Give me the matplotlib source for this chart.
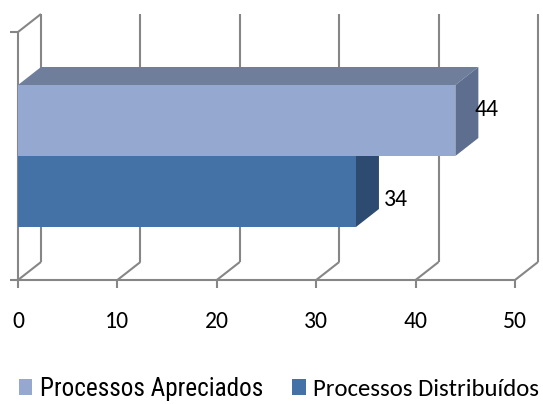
import matplotlib
matplotlib.use("Agg")
import matplotlib.pyplot as plt
from matplotlib.patches import Polygon, Patch

# ---- data ----
series_names = ["Processos Apreciados", "Processos Distribuídos"]
series_values = [44, 34]
x_ticks = [0, 10, 20, 30, 40, 50]

# ---- style ----
W, H, DPI = 543, 404, 100
front_colors = ["#95A9D0", "#4472A7"]
top_colors = ["#6F7F9B", "#3A5E8C"]
side_colors = ["#5E6E8E", "#2D4A70"]
grid_color = "#868686"
grid_lw = 1.5
label_off_px = [(-4, 11), (5, -8)]
main_font = ["Carlito", "DejaVu Sans"]
narrow_font = ["Roboto Condensed", "DejaVu Sans"]

fig = plt.figure(figsize=(W / DPI, H / DPI), dpi=DPI)
# front plane of the 3D box in pixels
x0_px, x1_px, yb_px, yt_px = 18, 515, 280, 32
ax = fig.add_axes([x0_px / W, 1 - yb_px / H, (x1_px - x0_px) / W, (yb_px - yt_px) / H])
ax.set_xlim(x_ticks[0], x_ticks[-1])
ax.set_ylim(0, 1)
for s in ax.spines.values():
    s.set_visible(False)
ax.set_yticks([])

ppx = (x1_px - x0_px) / (x_ticks[-1] - x_ticks[0])  # pixels per unit x
ppy = (yb_px - yt_px)  # pixels per unit y
dx = 23 / ppx
dy = 18 / ppy
tick_len_x = 8 / ppx
tick_len_y = 8 / ppy

line_kw = dict(color=grid_color, lw=grid_lw, clip_on=False, solid_capstyle="butt", zorder=1)
# floor front line and left wall
ax.plot([x_ticks[0] - tick_len_x, x_ticks[-1]], [0, 0], **line_kw)
ax.plot([0, 0], [0, 1], **line_kw)
ax.plot([x_ticks[0] - tick_len_x, 0], [1, 1], **line_kw)
ax.plot([0, dx], [1, 1 + dy], **line_kw)
for t in x_ticks:
    ax.plot([t, t], [0, -tick_len_y], **line_kw)
    ax.plot([t, t + dx], [0, dy], **line_kw)
    ax.plot([t + dx, t + dx], [dy, 1 + dy], **line_kw)

# bars
bar_h = 71 / ppy
centers = [0.5 + bar_h / 2, 0.5 - bar_h / 2]
for i in [1, 0]:
    v = series_values[i]
    c = centers[i]
    lo, hi = c - bar_h / 2, c + bar_h / 2
    z = 4 if i == 0 else 2
    ax.add_patch(Polygon([(0, hi), (v, hi), (v + dx, hi + dy), (dx, hi + dy)],
                         closed=True, fc=top_colors[i], ec="none", zorder=z, clip_on=False))
    ax.add_patch(Polygon([(v, lo), (v + dx, lo + dy), (v + dx, hi + dy), (v, hi)],
                         closed=True, fc=side_colors[i], ec="none", zorder=z, clip_on=False))
    ax.barh([c], [v], height=bar_h, color=front_colors[i], zorder=z + 0.5, clip_on=False)
    ax.annotate(str(v), xy=(v + dx, c), xytext=label_off_px[i], textcoords="offset pixels",
                ha="left", va="center", fontsize=17, family=main_font,
                color="#000000", zorder=10, annotation_clip=False)

ax.set_xticks(x_ticks)
ax.set_xticklabels([str(t) for t in x_ticks], fontsize=17, family=main_font)
ax.tick_params(axis="x", length=0, pad=22)

handles = [Patch(fc=front_colors[i], ec="none") for i in range(2)]
leg = fig.legend(handles, series_names, loc="center", bbox_to_anchor=(279 / W, 1 - 389 / H),
                 ncol=2, frameon=False, fontsize=17.8, handlelength=0.55, handleheight=0.6,
                 handletextpad=0.3, columnspacing=1.2, borderaxespad=0)
leg.get_texts()[0].set_fontfamily(narrow_font)
leg.get_texts()[0].set_fontsize(18.2)
leg.get_texts()[1].set_fontfamily(main_font)

fig.savefig("out.png", dpi=DPI)
